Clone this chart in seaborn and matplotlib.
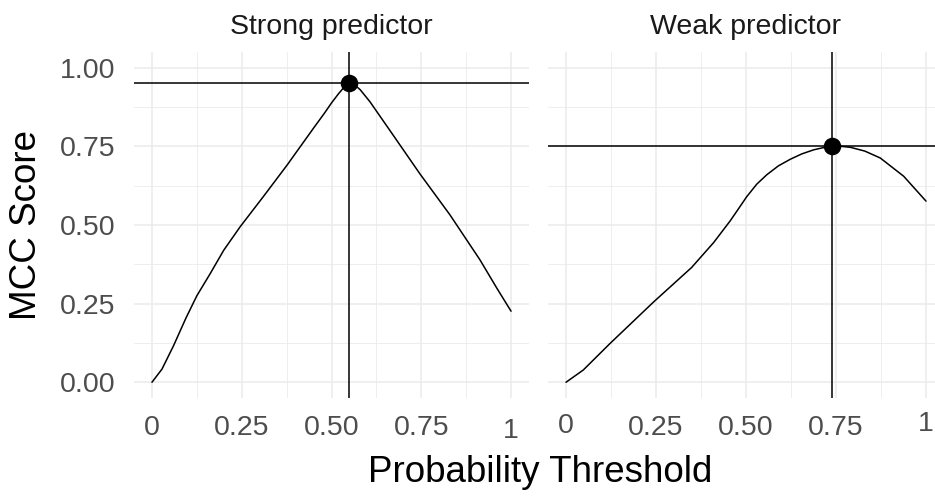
import numpy as np
import pandas as pd
import matplotlib
matplotlib.use("Agg")
import matplotlib.pyplot as plt
import matplotlib.transforms as mtransforms
import seaborn as sns

panels = ["Strong predictor", "Weak predictor"]

strong_x = [0, 0.028, 0.06, 0.095, 0.125, 0.162, 0.2, 0.246, 0.31, 0.376, 0.45,
            0.48, 0.50, 0.52, 0.535, 0.55, 0.565, 0.58, 0.607, 0.663, 0.746,
            0.83, 0.913, 0.96, 1.0]
strong_y = [0, 0.042, 0.116, 0.205, 0.275, 0.345, 0.42, 0.495, 0.59, 0.69, 0.808,
            0.855, 0.888, 0.918, 0.938, 0.95, 0.945, 0.93, 0.892, 0.80, 0.663,
            0.532, 0.39, 0.30, 0.226]

weak_x = [0, 0.048, 0.122, 0.243, 0.349, 0.41, 0.456, 0.48, 0.502, 0.53, 0.558,
          0.59, 0.623, 0.655, 0.688, 0.715, 0.74, 0.765, 0.79, 0.83, 0.873,
          0.938, 1.0]
weak_y = [0, 0.039, 0.123, 0.255, 0.365, 0.444, 0.513, 0.553, 0.59, 0.63, 0.66,
          0.688, 0.709, 0.726, 0.739, 0.746, 0.75, 0.75, 0.747, 0.735, 0.713,
          0.655, 0.576]

best_x = [0.55, 0.74]
best_y = [0.95, 0.75]

x_ticks = [0, 0.25, 0.5, 0.75, 1]
x_tick_labels = ["0", "0.25", "0.50", "0.75", "1"]
y_ticks = [0, 0.25, 0.5, 0.75, 1.0]
y_tick_labels = ["0.00", "0.25", "0.50", "0.75", "1.00"]

df = pd.concat([
    pd.DataFrame({"threshold": strong_x, "mcc": strong_y, "panel": panels[0]}),
    pd.DataFrame({"threshold": weak_x, "mcc": weak_y, "panel": panels[1]}),
])
best = pd.DataFrame({"threshold": best_x, "mcc": best_y, "panel": panels})

sns.set_theme(style="white")
plt.rcParams["font.family"] = ["Liberation Sans", "DejaVu Sans"]

W, H = 935, 496
fig = plt.figure(figsize=(W / 100, H / 100), dpi=100)
fig.patch.set_facecolor("white")


def px_box(left, right, top, bottom):
    return [left / W, 1 - bottom / H, (right - left) / W, (bottom - top) / H]


ax_left = fig.add_axes(px_box(134, 529, 52, 398))
ax_right = fig.add_axes(px_box(548, 944, 52, 398))
axes = [ax_left, ax_right]

minor_x = [0.125, 0.375, 0.625, 0.875]
minor_y = [0.125, 0.375, 0.625, 0.875]

for ax, name in zip(axes, panels):
    sub = df[df["panel"] == name]
    b = best[best["panel"] == name]

    ax.set_xlim(-0.05, 1.05)
    ax.set_ylim(-0.05, 1.05)
    ax.set_xticks(x_ticks)
    ax.set_xticklabels(x_tick_labels)
    ax.set_xticks(minor_x, minor=True)
    ax.set_yticks(y_ticks)
    ax.set_yticklabels(y_tick_labels)
    ax.set_yticks(minor_y, minor=True)
    ax.grid(which="major", color="#EBEBEB", lw=1.1)
    ax.grid(which="minor", color="#EBEBEB", lw=0.6)
    ax.set_axisbelow(True)
    for s in ax.spines.values():
        s.set_visible(False)
    ax.tick_params(which="both", length=0)
    ax.tick_params(axis="x", pad=12.5, labelsize=20.5, labelcolor="#4D4D4D")
    ax.tick_params(axis="y", pad=13.5, labelsize=20.5, labelcolor="#4D4D4D")

    sns.lineplot(data=sub, x="threshold", y="mcc", color="black", lw=1.1,
                 ax=ax, legend=False)
    ax.axhline(b["mcc"].iloc[0], color="black", lw=1.1)
    ax.axvline(b["threshold"].iloc[0], color="black", lw=1.1)
    sns.scatterplot(data=b, x="threshold", y="mcc", color="black", s=160,
                    linewidth=0, ax=ax, zorder=5, legend=False)

    ax.set_xlabel("")
    ax.set_ylabel("")
    ax.set_title(name, fontsize=20.5, color="#1A1A1A", pad=13)

ax_right.tick_params(axis="y", labelleft=False)


def nudge(label, dy_px):
    off = mtransforms.ScaledTranslation(0, dy_px / 100, fig.dpi_scale_trans)
    label.set_transform(label.get_transform() + off)


lx = ax_left.get_xticklabels()
rx = ax_right.get_xticklabels()
nudge(lx[-1], -3)
nudge(rx[0], 2)
nudge(rx[-1], 4)

fig.text(27 / W, 1 - 225 / H, "MCC Score", rotation=90, fontsize=26.5,
         ha="center", va="center", color="black")
fig.text(540 / W, 1 - 482 / H, "Probability Threshold", fontsize=26.5,
         ha="center", va="baseline", color="black")

fig.savefig("out.png", dpi=100, facecolor="white")
